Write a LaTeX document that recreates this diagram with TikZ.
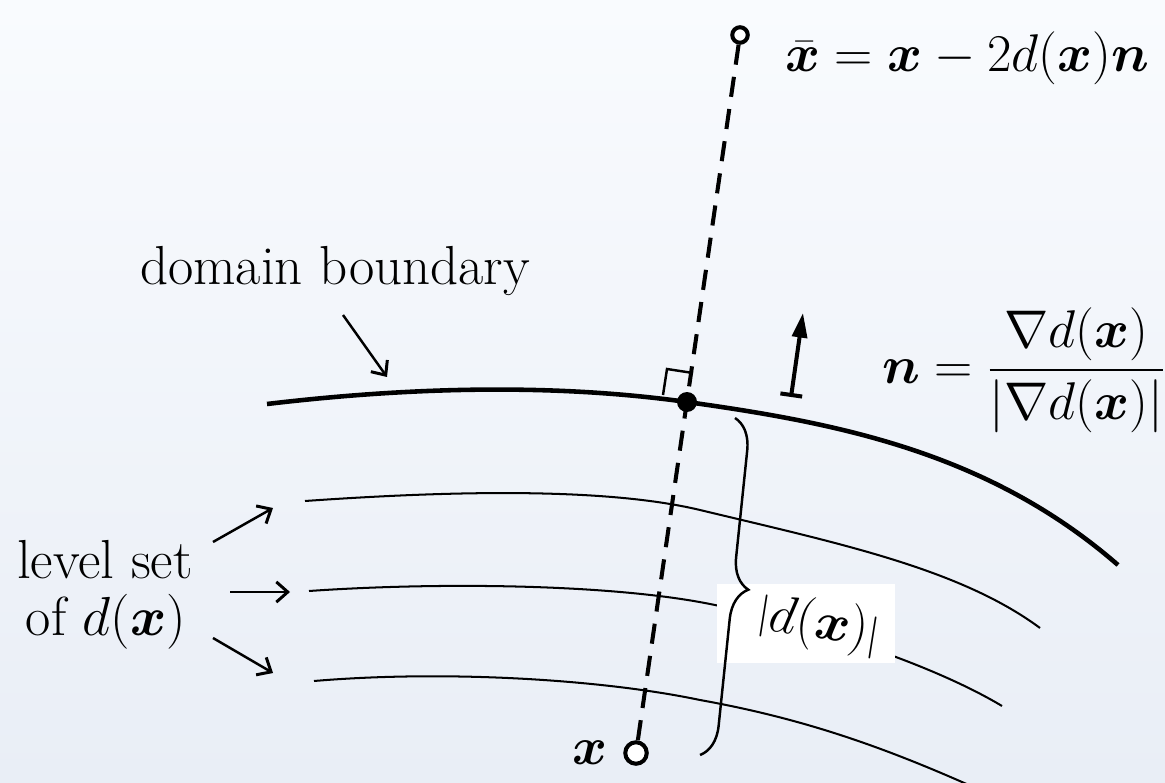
\RequirePackage{fix-cm}
\documentclass[tikz,border=0pt]{standalone}
\usepackage{amsmath}
\usepackage{bm}
\usetikzlibrary{arrows.meta,decorations.pathreplacing,shadings}
\definecolor{bgtop}{RGB}{249,251,254}
\definecolor{bgbot}{RGB}{233,238,246}
\tikzset{
  mlbl/.style={font=\fontsize{30.2pt}{36pt}\selectfont, inner sep=0pt, outer sep=0pt},
  tlbl/.style={font=\fontsize{31.3pt}{37pt}\selectfont, inner sep=0pt, outer sep=0pt},
  boundaryline/.style={line width=2.6pt},
  levelline/.style={line width=1.15pt},
  dashline/.style={line width=2.3pt, dash pattern=on 11.5pt off 7pt},
  ptr/.style={line width=1.4pt, -{Straight Barb[length=6.5pt,width=11.5pt,line width=1.7pt]}},
  opencirc/.style={circle, draw, fill=white, line width=2.3pt, inner sep=0pt},
  dotnode/.style={circle, fill=black, inner sep=0pt, minimum size=0.4cm},
  thinline/.style={line width=1.4pt},
}
\newcommand{\smallbar}{\scalebox{0.8}{$|$}}
\begin{document}
\begin{tikzpicture}[x=0.02cm,y=-0.02cm]
\useasboundingbox (0,0) rectangle (1165,783);
\shade[top color=bgtop, bottom color=bgbot] (0,0) rectangle (1165,783);
\begin{scope}
\clip (0,0) rectangle (1165,783);
% level sets
\draw[levelline] (305,501) .. controls (435,491.9) and (600,486) .. (700,510)
                 .. controls (840,543.6) and (960,568.8) .. (1040,628);
\draw[levelline] (309,591) .. controls (439,582) and (610,584) .. (710,604)
                 .. controls (810,624) and (932,664) .. (1002,706);
\draw[levelline] (314,681) .. controls (444,670) and (600,679) .. (700,700)
                 .. controls (800,718) and (880,745) .. (980,790);
\end{scope}
% label box
\node[fill=white, minimum width=3.56cm, minimum height=1.58cm, inner sep=0pt] (dbox) at (806,623.5) {};
\node[mlbl, rotate=-9] (dlabel) at (819,625) {$\raisebox{2pt}{\smallbar}d(\bm{x})\raisebox{-1pt}{\smallbar}$};
% brace
\coordinate (bt) at (735,418);
\coordinate (bb) at (700,755);
\draw[line width=1.4pt, decorate, decoration={brace, amplitude=0.62cm}] (bt) -- (bb);
% boundary
\draw[boundaryline] (267,404) .. controls (427,385) and (567,385.2) .. (687,402)
                    .. controls (837,423) and (988,451.9) .. (1118,565);
% points
\node[opencirc, minimum size=0.31cm] (xbar) at (740,35) {};
\node[opencirc, minimum size=0.43cm] (xpt) at (636,753) {};
\draw[dashline] (xbar) -- (xpt);
\node[dotnode] (p) at (687,402) {};
% right angle marker
\draw[thinline] (663,395) -- (667,369) -- (693,373);
% normal arrow
\coordinate (na) at (791,397);
\coordinate (nb) at (803,313);
\draw[line width=2.3pt, {Bar[width=12.5pt]}-{Triangle[length=14pt,width=8.5pt]}] (na) -- (nb);
% labels
\node[mlbl, anchor=base west] (xbarlabel) at (785,72) {$\bar{\bm{x}} = \bm{x} - 2d(\bm{x})\bm{n}$};
\node[mlbl, anchor=base west] (nlabel) at (882,383) {$\bm{n} = \dfrac{\nabla d(\bm{x})}{|\nabla d(\bm{x})|}$};
\node[mlbl, anchor=base east] (xlabel) at (607,764) {$\bm{x}$};
\node[tlbl, anchor=base west] (dom) at (140,285) {domain boundary};
\node[tlbl, anchor=base] (ls1) at (105,578) {level set};
\node[tlbl, anchor=base] (ls2) at (106,635) {of $d(\bm{x})$};
% pointers
\coordinate (d1) at (343,315);
\coordinate (d2) at (387,377);
\draw[ptr] (d1) -- (d2);
\coordinate (a1s) at (213,542); \coordinate (a1e) at (273,508);
\coordinate (a2s) at (230,592); \coordinate (a2e) at (290,592);
\coordinate (a3s) at (213,638); \coordinate (a3e) at (273,673);
\draw[ptr] (a1s) -- (a1e);
\draw[ptr] (a2s) -- (a2e);
\draw[ptr] (a3s) -- (a3e);
\end{tikzpicture}
\end{document}
